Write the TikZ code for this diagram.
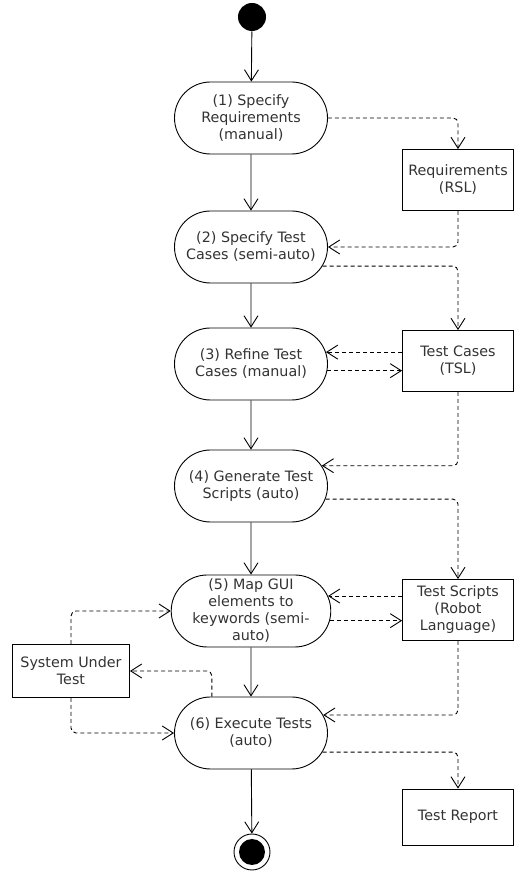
\documentclass[tikz,border=0pt]{standalone}
\usepackage{fontspec}
\setmainfont{DejaVu Sans}
\usetikzlibrary{shapes.misc,arrows.meta}

\tikzset{
  activity/.style={rounded rectangle, draw, align=center, text=black!80,
                   minimum width=157pt, minimum height=72pt,
                   inner xsep=2pt, inner ysep=0pt},
  artifact/.style={rectangle, draw, align=center, text=black!80,
                   minimum width=111pt, minimum height=61pt, inner sep=1pt},
  flow/.style={-{Straight Barb[length=11pt,width=14pt]}},
  objflow/.style={flow, dash pattern=on 4pt off 3pt, rounded corners=5pt},
}

\begin{document}
\begin{tikzpicture}[x=1pt,y=1pt,line width=0.9pt,
                    font=\fontsize{14.3}{17}\selectfont]
  \useasboundingbox (0,0) rectangle (514,871);
  % activities
  \node[circle,fill,minimum size=28pt,inner sep=0pt] (start) at (252,854) {};
  \node[activity] (A1) at (251,753) {(1) Specify\\Requirements\\(manual)};
  \node[activity] (A2) at (251,624) {(2) Specify Test\\Cases (semi-auto)};
  \node[activity] (A3) at (251,507) {(3) Refine Test\\Cases (manual)};
  \node[activity] (A4) at (251,385) {(4) Generate Test\\Scripts (auto)};
  \node[activity] (A5) at (251,260) {(5) Map GUI\\elements to\\keywords (semi-\\auto)};
  \node[activity] (A6) at (251,138) {(6) Execute Tests\\(auto)};
  \node[circle,draw,minimum size=36pt,inner sep=0pt] (stop) at (252,19) {};
  \node[circle,fill,minimum size=26pt,inner sep=0pt] (stopdot) at (stop) {};
  % artifacts
  \node[artifact] (req) at (458,691) {Requirements\\(RSL)};
  \node[artifact] (tc)  at (458,510) {Test Cases\\(TSL)};
  \node[artifact] (ts)  at (458,261) {Test Scripts\\(Robot\\Language)};
  \node[artifact,minimum height=56pt] (tr) at (458,54) {Test Report};
  \node[artifact,minimum width=117pt,minimum height=53pt] (sut) at (71,200)
       {System Under\\Test};
  % control flow
  \draw[flow] (start) -- (A1);
  \draw[flow] (A1) -- (A2);
  \draw[flow] (A2) -- (A3);
  \draw[flow] (A3) -- (A4);
  \draw[flow] (A4) -- (A5);
  \draw[flow] (A5) -- (A6);
  \draw[flow] (A6) -- (stop);
  % object flow
  \draw[objflow] (A1.east) -| (req.north);
  \draw[objflow] (req.south) |- (A2.east);
  \draw[objflow] (A2.-15) -| (tc.north);
  \draw[objflow] (tc.west |- A3.9) -- (A3.9);
  \draw[objflow] (A3.-5) -- (tc.west |- A3.-5);
  \draw[objflow] (tc.south) |- (A4.16);
  \draw[objflow] (A4.-10) -| (ts.north);
  \draw[objflow] (ts.west |- A5.11) -- (A5.11);
  \draw[objflow] (A5.-7) -- (ts.west |- A5.-7);
  \draw[objflow] (ts.south) |- (A6.14);
  \draw[objflow] (A6.-15) -| (tr.north);
  \draw[objflow] (sut.north) |- (A5.west);
  \draw[objflow] (A6.137) |- (sut.east);
  \draw[objflow] (sut.south) |- (A6.west);
\end{tikzpicture}
\end{document}
